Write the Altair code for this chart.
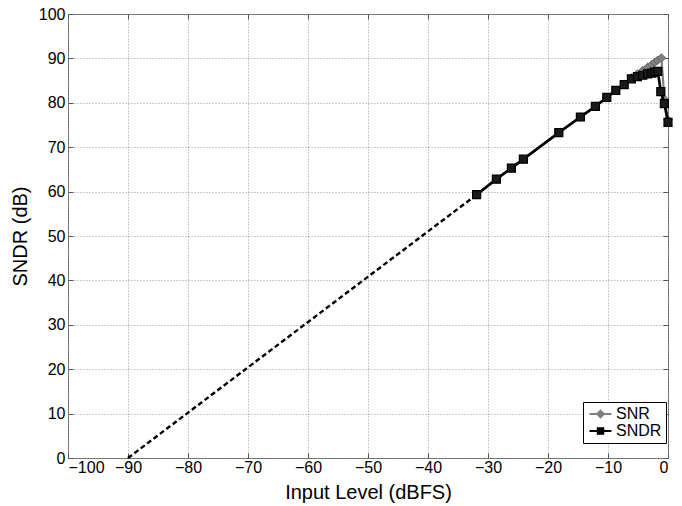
import altair as alt
import pandas as pd

# ---- data ----
sndr_x = [-31.9, -28.6, -26.1, -24.1, -18.2, -14.6, -12.1, -10.2, -8.7, -7.3,
          -6.1, -5.1, -4.2, -3.4, -2.7, -2.2, -1.7, -1.2, -0.6, 0.0]
sndr_y = [59.3, 62.8, 65.3, 67.3, 73.3, 76.8, 79.2, 81.2, 82.8, 84.1,
          85.4, 85.9, 86.2, 86.5, 86.7, 86.9, 87.1, 82.5, 79.8, 75.6]
snr_x = [-31.9, -28.6, -26.1, -24.1, -18.2, -14.6, -12.1, -10.2, -8.7, -7.3,
         -6.1, -5.1, -4.2, -3.4, -2.7, -2.2, -1.7, -1.1, -0.6, 0.0]
snr_y = [59.3, 62.8, 65.3, 67.3, 73.3, 76.8, 79.2, 81.2, 82.8, 84.2,
         85.6, 86.5, 87.3, 88.0, 88.6, 89.1, 89.6, 90.1, 80.8, 76.2]
ext_x = [-90.0, -31.9]
ext_y = [0.0, 59.3]

series_names = ["SNR", "SNDR"]
series_colors = ["#808080", "#000000"]
x_ticks = list(range(-100, 1, 10))
y_ticks = list(range(0, 101, 10))

df = pd.concat([
    pd.DataFrame({"x": snr_x, "y": snr_y, "series": "SNR"}),
    pd.DataFrame({"x": sndr_x, "y": sndr_y, "series": "SNDR"}),
], ignore_index=True)
ext = pd.DataFrame({"x": ext_x, "y": ext_y})

FONT = "Liberation Sans"
xscale = alt.Scale(domain=[-100, 0], nice=False)
yscale = alt.Scale(domain=[0, 100], nice=False)

x_axis = alt.Axis(values=x_ticks, title="Input Level (dBFS)", grid=True,
                  offset=-5, tickSize=5, labelPadding=1, titlePadding=7)
y_axis = alt.Axis(values=y_ticks, title="SNDR (dB)", grid=True,
                  offset=-5, tickSize=5, labelPadding=3, titlePadding=8)

base_x_main = alt.X("x:Q", scale=xscale, axis=x_axis)
base_y_main = alt.Y("y:Q", scale=yscale, axis=y_axis)
bx = alt.X("x:Q", scale=xscale, axis=None)
by = alt.Y("y:Q", scale=yscale, axis=None)

dashed = alt.Chart(ext).mark_line(color="black", strokeWidth=2.4, strokeDash=[5, 3]).encode(
    x=base_x_main, y=base_y_main)

snr_df = df[df.series == "SNR"]
sndr_df = df[df.series == "SNDR"]

snr_line = alt.Chart(snr_df).mark_line(color=series_colors[0], strokeWidth=2.2).encode(x=bx, y=by)
snr_pts = alt.Chart(snr_df).mark_point(shape="diamond", filled=True, size=70,
                                       fill=series_colors[0], stroke="#666666",
                                       strokeWidth=1, opacity=1).encode(x=bx, y=by)
sndr_line = alt.Chart(sndr_df).mark_line(color="black", strokeWidth=2.7).encode(x=bx, y=by)
sndr_pts = alt.Chart(sndr_df).mark_point(shape="square", filled=True, size=64,
                                         fill="#1a1a1a", stroke="black",
                                         strokeWidth=1.2, opacity=1).encode(x=bx, y=by)

sym_snr = "M-1,0H3M1,-0.6L1.6,0L1,0.6L0.4,0Z"
sym_sndr = "M-1,0H3M0.5,-0.5H1.5V0.5H0.5Z"

leg = alt.Legend(orient="none", legendX=515, legendY=388, title=None,
                 padding=4, strokeColor="black", fillColor="white",
                 labelFont=FONT, labelFontSize=16, labelColor="black",
                 symbolSize=121, symbolStrokeWidth=2, labelOffset=13,
                 rowPadding=1, symbolOpacity=1)

legend_layer = alt.Chart(df).transform_filter("false").mark_point(filled=True).encode(
    x=alt.X("x:Q", scale=xscale,
            axis=alt.Axis(orient="top", values=x_ticks, labels=False, title=None, grid=False,
                          offset=-5, tickSize=5, domain=False)),
    y=alt.Y("y:Q", scale=yscale,
            axis=alt.Axis(orient="right", values=y_ticks, labels=False, title=None, grid=False,
                          offset=-5, tickSize=5, domain=False)),
    shape=alt.Shape("series:N", scale=alt.Scale(domain=series_names, range=[sym_snr, sym_sndr]), legend=leg),
    fill=alt.Fill("series:N", scale=alt.Scale(domain=series_names, range=series_colors), legend=leg),
    stroke=alt.Stroke("series:N", scale=alt.Scale(domain=series_names, range=series_colors), legend=leg),
)

chart = alt.layer(dashed, snr_line, snr_pts, sndr_line, sndr_pts, legend_layer).resolve_axis(
    x="independent", y="independent"
).properties(
    width=600, height=444,
    autosize=alt.AutoSizeParams(type="none"),
    padding={"left": 68, "top": 14, "right": 14, "bottom": 48},
    background="white",
).configure_view(
    stroke="#666666", strokeWidth=1
).configure_axis(
    domain=False,
    gridColor="#999999", gridDash=[1, 2], gridWidth=1, gridOpacity=1,
    tickColor="#555555", tickWidth=1,
    labelFont=FONT, labelFontSize=16, labelColor="black",
    titleFont=FONT, titleFontSize=20, titleFontWeight="normal", titleColor="black",
)

chart.save("out.html", embed_options={"renderer": "svg", "actions": False})
